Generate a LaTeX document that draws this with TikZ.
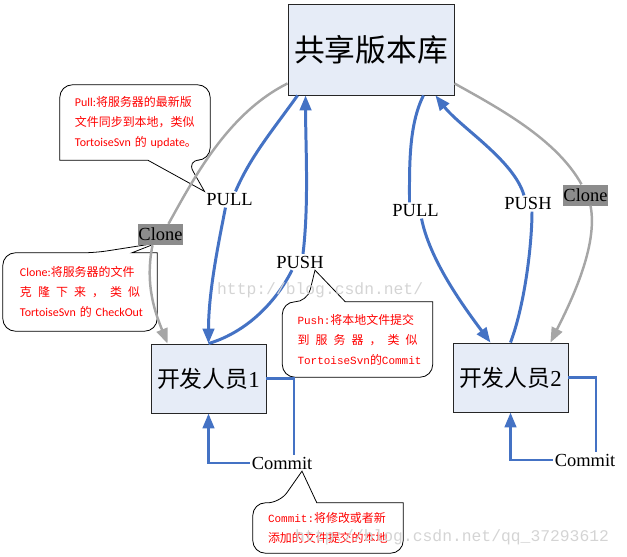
\documentclass[tikz,border=0pt]{standalone}
\usepackage{fontspec}
\setmainfont{Liberation Serif}
\newfontfamily\cjk{Noto Sans CJK SC}
\newfontfamily\calibfont{Carlito}
\newfontfamily\codefont{Liberation Mono}
\usetikzlibrary{arrows.meta,backgrounds}

\definecolor{flowblue}{RGB}{68,114,196}
\definecolor{clonegray}{RGB}{166,166,166}
\definecolor{boxfill}{RGB}{230,236,247}
\definecolor{tagfill}{RGB}{140,140,140}
\definecolor{markgray}{RGB}{212,212,212}

\begin{document}
\begin{tikzpicture}
  [x=0.4mm, y=-0.4mm,
   box/.style={draw=black!85, fill=boxfill, line width=1pt, inner sep=0pt},
   lbl/.style={inner sep=2pt, font=\fontsize{21}{24}\selectfont},
   tag/.style={fill=tagfill, inner xsep=1pt, inner ysep=0pt, minimum height=8.4mm, font=\fontsize{21}{24}\selectfont},
   flow/.style={draw=flowblue, line width=3.4pt},
   clone/.style={draw=clonegray, line width=2.8pt},
   flowhead/.style={-{Triangle[length=6mm,width=4.6mm]}},
   note/.style={text width=48mm, align=left, inner sep=0pt, minimum width=60mm, minimum height=30mm, text=red, font=\cjk\fontsize{13.6}{22.8}\selectfont},
   bubble/.style={draw=black, fill=white, line width=0.9pt, rounded corners=5mm},
   wmark/.style={text=markgray, inner sep=0pt, font=\codefont\fontsize{18.6}{20}\selectfont}]
  \useasboundingbox (0,0) rectangle (627,557);

  \node[box, minimum width=66.4mm, minimum height=36.4mm, font=\cjk\fontsize{35}{40}\selectfont] (repo) at (371,49.5) {共享版本库};
  \node[box, minimum width=46mm, minimum height=27.6mm, font=\fontsize{26}{30}\selectfont] (dev1) at (208.5,378.5) {{\cjk 开发人员}1};
  \node[box, minimum width=46mm, minimum height=27.6mm, font=\fontsize{26}{30}\selectfont] (dev2) at (510.5,377.5) {{\cjk 开发人员}2};

  \node[lbl] (pull1) at (229.5,199.5) {PULL};
  \node[lbl] (push1) at (300,262) {PUSH};
  \node[lbl] (pull2) at (415.5,210.5) {PULL};
  \node[lbl] (push2) at (528,203.5) {PUSH};
  \node[lbl] (commit1) at (282,463) {Commit};
  \node[lbl] (commit2) at (585,460) {Commit};
  \node[tag] (clone1) at (160.5,234.5) {Clone};
  \node[tag] (clone2) at (585.5,195) {Clone};

  % developer 1: pull and push
  \draw[flow] ([shift={(10,0)}]repo.south west) .. controls +(-25,35) and +(15,-35) .. ([shift={(6,0)}]pull1.north);
  \draw[flow, flowhead] ([shift={(-4,0)}]pull1.south) .. controls +(-8,40) and +(0,-50) .. (dev1.north);
  \draw[flow] (dev1.north) .. controls +(40,-12) and +(-15,30) .. ([shift={(-8,0)}]push1.south);
  \draw[flow, flowhead] ([shift={(3,0)}]push1.north) .. controls +(6,-50) and +(0,50) .. ([shift={(18,0)}]repo.south west);

  % developer 2: pull and push
  \draw[flow] ([shift={(-31,0)}]repo.south east) .. controls +(-15,30) and +(0,-35) .. ([shift={(-6,0)}]pull2.north);
  \draw[flow, flowhead] ([shift={(6,0)}]pull2.south) .. controls +(8,40) and +(-30,-40) .. ([shift={(-20,0)}]dev2.north);
  \draw[flow] (dev2.north) .. controls +(15,-40) and +(0,30) .. ([shift={(4,0)}]push2.south);
  \draw[flow, flowhead] ([shift={(-4,0)}]push2.north) .. controls +(-10,-35) and +(25,32) .. ([shift={(-19,0)}]repo.south east);

  % clone
  \draw[clone] ([shift={(0,-12)}]repo.south west) .. controls +(-60,30) and +(25,-45) .. ([shift={(8,0)}]clone1.north);
  \draw[clone, flowhead] ([shift={(-8,0)}]clone1.south) .. controls +(-8,40) and +(-12,-30) .. ([shift={(17,0)}]dev1.north west);
  \draw[clone] ([shift={(0,-12)}]repo.south east) .. controls +(45,25) and +(-25,-45) .. ([shift={(-4,0)}]clone2.north);
  \draw[clone, flowhead] ([shift={(5,0)}]clone2.south) .. controls +(8,40) and +(20,-40) .. ([shift={(-18,0)}]dev2.north east);

  % commit loops
  \draw[flow] (dev1.east) -| ([shift={(12,0)}]commit1.north);
  \draw[flow, flowhead] (commit1.west) -| (dev1.south);
  \draw[flow] (dev2.east) -| ([shift={(11,0)}]commit2.north);
  \draw[flow, flowhead] (commit2.west) -| (dev2.south);

  % notes
  \node[note] (pullnote) at (135,122.5) {\mbox{{\calibfont Pull:}将服务器的最新版}\\\mbox{文件同步到本地，类似}\\\mbox{{\calibfont TortoiseSvn} 的 {\calibfont update}。}};
  \node[note, minimum width=61.6mm, minimum height=31.2mm] (clonenote) at (80,292) {\mbox{{\calibfont Clone:}将服务器的文件}\\\makebox[48mm][s]{克\hfill 隆\hfill 下\hfill 来\hfill ，\hfill 类\hfill 似}\\\mbox{{\calibfont TortoiseSvn} 的 {\calibfont CheckOut}}};
  \node[note] (pushnote) at (357.5,339.5) {\mbox{{\codefont\fontsize{12.5}{22.8}\selectfont Push:}将本地文件提交}\\\makebox[48mm][s]{到\hfill 服\hfill 务\hfill 器\hfill ，\hfill 类\hfill 似}\\\mbox{{\codefont\fontsize{12.5}{22.8}\selectfont TortoiseSvn}的{\codefont\fontsize{12.5}{22.8}\selectfont Commit}}};
  \node[note, minimum height=20mm] (commitnote) at (328,528) {\mbox{{\codefont\fontsize{12.5}{22.8}\selectfont Commit:}将修改或者新}\\\mbox{添加的文件提交的本地}};

  \begin{scope}[on background layer]
    \draw[bubble] (pullnote.north west) -- (pullnote.north east) -- (pullnote.south east) -- ([shift={(127,0)}]pullnote.south west) [sharp corners] -- (pull1.north west) -- ([shift={(88,0)}]pullnote.south west) -- (pullnote.south west) [rounded corners=5mm] -- cycle;
    \draw[bubble] (clonenote.south west) -- (clonenote.north west) -- ([shift={(92,0)}]clonenote.north west) [sharp corners] -- ([shift={(-4,-2)}]clone1.south) -- ([shift={(129,0)}]clonenote.north west) -- (clonenote.north east) [rounded corners=5mm] -- (clonenote.south east) -- cycle;
    \draw[bubble] (pushnote.south west) -- (pushnote.north west) -- ([shift={(25,0)}]pushnote.north west) [sharp corners] -- ([shift={(15,0)}]push1.south) -- ([shift={(63,0)}]pushnote.north west) -- (pushnote.north east) [rounded corners=5mm] -- (pushnote.south east) -- cycle;
    \draw[bubble] (commitnote.south west) -- (commitnote.north west) -- ([shift={(27,0)}]commitnote.north west) [sharp corners] -- ([shift={(20,0)}]commit1.south) -- ([shift={(64,0)}]commitnote.north west) -- (commitnote.north east) [rounded corners=5mm] -- (commitnote.south east) -- cycle;
  \end{scope}

  % watermarks
  \node[wmark, anchor=west] (mark1) at (217,290) {http://blog.csdn.net/};
  \node[wmark, anchor=west] (mark2) at (295,537) {http://blog.csdn.net/qq\_37293612};
\end{tikzpicture}
\end{document}
